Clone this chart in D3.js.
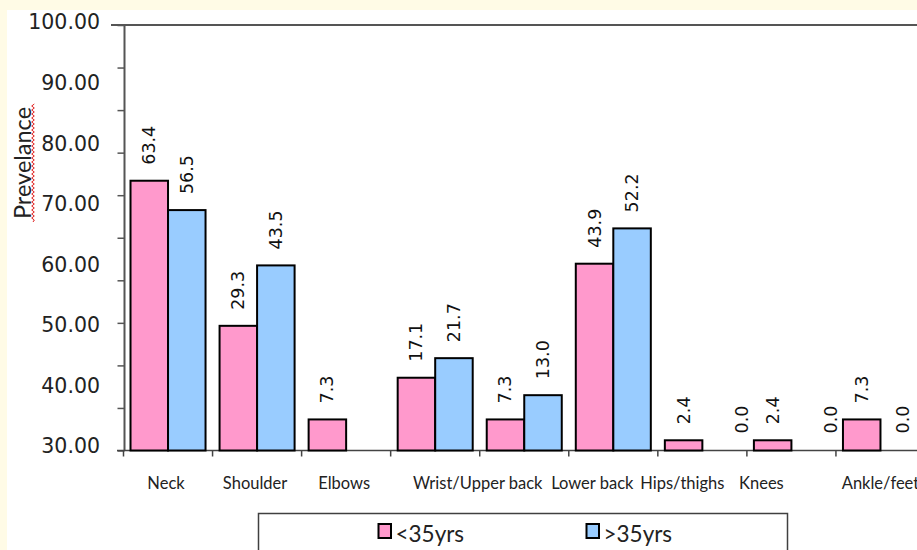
<!DOCTYPE html>
<html>
<head>
<meta charset="utf-8">
<script src="https://cdn.jsdelivr.net/npm/d3@7"></script>
<style>
  html, body { margin: 0; padding: 0; background: #fffbe6; }
  svg { display: block; }
</style>
</head>
<body>
<svg id="chart" width="917" height="550"></svg>
<script>
// Body regions and prevalence (%) by age group
const categories = ["Neck", "Shoulder", "Elbows", "Wrist", "Upper back", "Lower back", "Hips/thighs", "Knees", "Ankle/feet"];
const seriesNames = ["<35yrs", ">35yrs"];
const under35 = [63.4, 29.3, 7.3, 17.1, 7.3, 43.9, 2.4, 2.4, 7.3];
const over35  = [56.5, 43.5, null, 21.7, 13.0, 52.2, 0.0, 0.0, 0.0];
// Axis text
const yTickLabels = [30, 40, 50, 60, 70, 80, 90, 100];
const xLabelGroups = [["Neck"], ["Shoulder"], ["Elbows"], ["Wrist", "Upper back"], ["Lower back"], ["Hips/thighs"], ["Knees"], ["Ankle/feet"]];
const yTitle = "Prevelance";

const colors = ["#ff99cc", "#99ccff"];
const svg = d3.select("#chart");

// white sheet behind the chart
svg.append("rect").attr("x", 7).attr("y", 10).attr("width", 910).attr("height", 540).attr("fill", "#fff");

const plotLeft = 124.5, plotRight = 925, plotBase = 450.5, plotTop = 25;
const x0 = d3.scaleBand().domain(categories).range([plotLeft - 1, plotRight]).padding(0);
const x1 = d3.scaleBand().domain(seriesNames).range([0, x0.bandwidth()]).paddingInner(0).paddingOuter(0.187);
const y = d3.scaleLinear().domain([0, 100]).range([plotBase, plotTop]);
const yLab = d3.scaleLinear().domain([30, 100]).range([446, 22]);

// frame top line
svg.append("line").attr("x1", 111).attr("x2", 917).attr("y1", plotTop).attr("y2", plotTop)
  .attr("stroke", "#555").attr("stroke-width", 2);

// y axis: line and ticks every 10 units
const yAxis = svg.append("g").attr("transform", `translate(${plotLeft},0)`)
  .call(d3.axisLeft(y).tickValues(d3.range(0, 101, 10)).tickSize(7).tickFormat(""));
yAxis.select(".domain").attr("stroke", "#555").attr("stroke-width", 2).attr("d", `M0,${plotTop}V${plotBase}`);
yAxis.selectAll(".tick line").attr("stroke", "#555").attr("stroke-width", 1.5);

// y tick labels
svg.append("g").selectAll("text").data(yTickLabels).join("text")
  .attr("x", 100).attr("y", d => yLab(d)).attr("dy", "0.36em")
  .attr("text-anchor", "end")
  .attr("font-family", "DejaVu Sans").attr("font-size", 20.5).attr("fill", "#222")
  .text(d => d3.format(".2f")(d));

// x axis line with ticks at category boundaries
const xAxis = svg.append("g");
xAxis.append("line").attr("x1", 117).attr("x2", 917).attr("y1", plotBase).attr("y2", plotBase)
  .attr("stroke", "#444").attr("stroke-width", 1.5);
xAxis.selectAll("line.tk").data(categories).join("line").attr("class", "tk")
  .attr("x1", d => x0(d)).attr("x2", d => x0(d)).attr("y1", plotBase).attr("y2", plotBase + 6)
  .attr("stroke", "#444").attr("stroke-width", 1.5);

// bars
const rows = categories.map((c, i) => ({ c, vals: [under35[i], over35[i]] }));
const groups = svg.append("g").selectAll("g").data(rows).join("g")
  .attr("transform", d => `translate(${x0(d.c)},0)`);

groups.selectAll("rect").data(d => d.vals.map((v, k) => ({ v, k })).filter(e => e.v !== null && e.v > 0)).join("rect")
  .attr("x", e => x1(seriesNames[e.k]))
  .attr("y", e => y(e.v))
  .attr("width", x1.bandwidth())
  .attr("height", e => plotBase - y(e.v))
  .attr("fill", e => colors[e.k])
  .attr("stroke", "#000").attr("stroke-width", 2);

// value labels, rotated
groups.selectAll("text").data(d => d.vals.map((v, k) => ({ v, k, c: d.c })).filter(e => e.v !== null)).join("text")
  .attr("transform", e => {
    let cx = x1(seriesNames[e.k]) + x1.bandwidth() / 2;
    if (e.v === 0) cx = Math.min(cx + 21, 903 - x0(e.c));
    const ty = y(e.v) - (e.v === 0 ? 17 : 16);
    return `translate(${cx},${ty}) rotate(-90)`;
  })
  .attr("text-anchor", "start").attr("dominant-baseline", "central")
  .attr("font-family", "DejaVu Sans").attr("font-size", 17.5).attr("fill", "#111")
  .text(e => d3.format(".1f")(e.v));

// category labels
const labelShift = { "Lower back": -19, "Hips/thighs": -18, "Knees": -28, "Ankle/feet": 2 };
svg.append("g").selectAll("text").data(xLabelGroups).join("text")
  .attr("x", g => d3.mean(g, c => x0(c) + x0.bandwidth() / 2) - 2 + (labelShift[g.join("/")] || 0))
  .attr("y", 489)
  .attr("text-anchor", "middle")
  .attr("font-family", "Lato").attr("font-size", 16.5).attr("fill", "#222")
  .text(g => g.join("/"));

// y title with spell-check squiggle
svg.append("text").attr("transform", "translate(31,163) rotate(-90)")
  .attr("text-anchor", "middle")
  .attr("font-family", "Lato").attr("font-size", 23.5).attr("fill", "#222")
  .text(yTitle);
const sq = d3.path();
sq.moveTo(33, 222);
for (let yy = 222, s = 1; yy > 105; yy -= 2, s = -s) sq.lineTo(33 + s * 1.3, yy - 2);
svg.append("path").attr("d", sq.toString()).attr("fill", "none").attr("stroke", "#e02020").attr("stroke-width", 1);

// legend
const lg = svg.append("g");
lg.append("rect").attr("x", 258.5).attr("y", 513.5).attr("width", 529).attr("height", 60)
  .attr("fill", "#fff").attr("stroke", "#404040").attr("stroke-width", 1.5);
const legendX = [378.5, 586.5];
seriesNames.forEach((n, k) => {
  lg.append("rect").attr("x", legendX[k]).attr("y", 524).attr("width", 12.5).attr("height", 14)
    .attr("fill", colors[k]).attr("stroke", "#000").attr("stroke-width", 2);
  lg.append("text").attr("x", legendX[k] + 17).attr("y", 542)
    .attr("font-family", "Lato").attr("font-size", 22.5).attr("fill", "#222").text(n);
});
</script>
</body>
</html>
